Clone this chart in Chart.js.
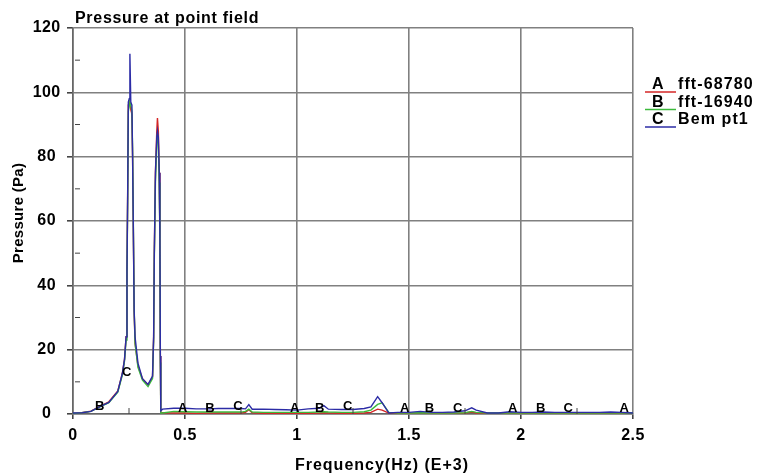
<!DOCTYPE html>
<html>
<head>
<meta charset="utf-8">
<script src="https://cdn.jsdelivr.net/npm/chart.js@4.4.1/dist/chart.umd.min.js"></script>
<style>
html,body{margin:0;padding:0;background:#fff;}
</style>
</head>
<body>
<canvas id="pressure-chart" width="757" height="476"></canvas>
<script>
// frequency axis, in E+3 Hz
const freqs = [
    0, 0.04, 0.08, 0.12, 0.16, 0.2, 0.22, 0.23, 0.237, 0.241,
    0.244, 0.247, 0.251, 0.254, 0.258, 0.263, 0.266, 0.269, 0.273, 0.277,
    0.29, 0.31, 0.335, 0.355, 0.36, 0.363, 0.368, 0.374, 0.377, 0.381,
    0.385, 0.388, 0.39, 0.392, 0.4, 0.45,
    0.5, 0.55, 0.6, 0.65, 0.7, 0.75, 0.77, 0.785, 0.8, 0.85,
    0.9, 0.95, 1.0, 1.05, 1.1, 1.12, 1.14, 1.2, 1.25, 1.3,
    1.33, 1.36, 1.38, 1.41, 1.45, 1.5, 1.55, 1.6, 1.65, 1.7,
    1.75, 1.78, 1.8, 1.85, 1.9, 1.95, 2.0, 2.05, 2.1, 2.15,
    2.2, 2.25, 2.3, 2.35, 2.4, 2.45, 2.5
];
// A fft-68780
const fftA = [
    0.2, 0.4, 0.9, 2.4, 3.8, 7.2, 12.5, 17, 24, 45,
    68, 96, 97, 96, 95, 93, 80, 60, 32, 22,
    15, 11, 9, 11.5, 24, 50, 75, 88, 92, 88,
    75, 55, 18, 0.5, 0.4, 0.3,
    0.3, 0.2, 0.3, 0.3, 0.3, 0.3, 0.5, 1.3, 0.4, 0.2,
    0.2, 0.2, 0.2, 0.2, 0.3, 0.4, 0.3, 0.2, 0.2, 0.3,
    0.5, 1.5, 1.2, 0.3, 0.2, 0.2, 0.2, 0.2, 0.2, 0.2,
    0.3, 0.6, 0.3, 0.2, 0.2, 0.2, 0.2, 0.2, 0.2, 0.2,
    0.2, 0.2, 0.2, 0.2, 0.2, 0.2, 0.2
];
// B fft-16940
const fftB = [
    0.2, 0.4, 0.8, 2.2, 3.5, 6.8, 12, 16.5, 23, 43,
    66, 94, 96, 97, 96, 94, 82, 62, 33, 22,
    14.5, 10.5, 8.5, 11, 23, 48, 72, 84, 87, 84,
    72, 52, 16, 0.3, 0.3, 0.8,
    0.7, 0.6, 0.6, 0.6, 0.6, 0.6, 0.8, 1.5, 0.6, 0.5,
    0.5, 0.5, 0.5, 0.5, 0.6, 0.7, 0.6, 0.5, 0.5, 0.7,
    1.2, 3.0, 3.5, 0.5, 0.3, 0.3, 0.4, 0.3, 0.3, 0.3,
    0.4, 0.8, 0.5, 0.3, 0.3, 0.3, 0.3, 0.3, 0.3, 0.3,
    0.3, 0.3, 0.3, 0.3, 0.3, 0.3, 0.3
];
// C Bem pt1
const bemC = [
    0.3, 0.4, 0.8, 2.3, 3.6, 7.0, 12.5, 17, 24, 45,
    68, 97, 98, 112, 97, 96, 80, 60, 32, 24,
    15.8, 11, 9.2, 11.8, 24, 50, 75, 86, 88, 86,
    75, 55, 18, 1, 1.5, 1.8,
    1.8, 1.6, 1.6, 1.7, 1.7, 1.7, 1.6, 2.9, 1.5, 1.5,
    1.4, 1.3, 1.2, 1.6, 1.8, 2.6, 1.5, 1.4, 1.4, 1.7,
    2.2, 5.4, 3.5, 0.3, 0.5, 0.5, 0.8, 0.5, 0.5, 0.6,
    1.0, 1.9, 1.2, 0.3, 0.3, 0.7, 0.5, 0.5, 0.6, 0.5,
    0.5, 0.5, 0.5, 0.5, 0.6, 0.5, 0.3
];

const seriesNames = ["fft-68780", "fft-16940", "Bem pt1"];
const seriesTags = ["A", "B", "C"];
const seriesColors = ["#d42626", "#3cba3c", "#2c2ca6"];

// where the curve letters sit (left edge, E+3 Hz)
const tagsA = [0.469, 0.969, 1.46, 1.942, 2.44];
const tagsB = [0.098, 0.59, 1.08, 1.57, 2.067];
const tagsC = [0.219, 0.715, 1.205, 1.696, 2.19];

const xTicks = [0, 0.5, 1, 1.5, 2, 2.5];
const yTicks = [0, 20, 40, 60, 80, 100, 120];
const xMinor = [0.25, 0.75, 1.25, 1.75, 2.25];
const yMinor = [10, 30, 50, 70, 90, 110];

const fontFam = '"Liberation Sans", Arial, sans-serif';
const allSeries = [fftA, fftB, bemC];
const allTags = [tagsA, tagsB, tagsC];

function interp(f, vals){
    for(let i = 1; i < freqs.length; i++){
        if(f <= freqs[i]){
            const t = (f - freqs[i-1]) / (freqs[i] - freqs[i-1]);
            return vals[i-1] + t * (vals[i] - vals[i-1]);
        }
    }
    return vals[vals.length-1];
}

const extras = {
    id: "extras",
    beforeDraw(chart){
        chart.ctx.letterSpacing = "0.4px";
    },
    afterDatasetsDraw(chart){
        const ctx = chart.ctx;
        const xs = chart.scales.x, ys = chart.scales.y;
        const area = chart.chartArea;
        ctx.save();

        // minor ticks point inward
        ctx.strokeStyle = "#444";
        ctx.lineWidth = 1;
        yMinor.forEach(function(v){
            const py = ys.getPixelForValue(v);
            ctx.beginPath();
            ctx.moveTo(area.left + 2, py);
            ctx.lineTo(area.left + 7, py);
            ctx.stroke();
        });
        xMinor.forEach(function(v){
            const px = xs.getPixelForValue(v);
            ctx.beginPath();
            ctx.moveTo(px, area.bottom);
            ctx.lineTo(px, area.bottom - 6);
            ctx.stroke();
        });

        // letters along curves
        ctx.letterSpacing = "0px";
        ctx.font = "bold 13px " + fontFam;
        ctx.fillStyle = "#000";
        ctx.textAlign = "left";
        ctx.textBaseline = "alphabetic";
        allTags.forEach(function(list, s){
            list.forEach(function(f){
                let py = ys.getPixelForValue(interp(f, allSeries[s])) + 1;
                py = Math.min(py, area.bottom - 2);
                ctx.fillText(seriesTags[s], xs.getPixelForValue(f), py);
            });
        });

        // chart title
        ctx.letterSpacing = "0.7px";
        ctx.font = "bold 16px " + fontFam;
        ctx.fillText("Pressure at point field", area.left + 2, 23);

        // axis titles
        ctx.letterSpacing = "1px";
        ctx.textAlign = "center";
        ctx.fillText("Frequency(Hz) (E+3)", 382, 470);
        ctx.save();
        ctx.letterSpacing = "0.3px";
        ctx.font = "bold 15px " + fontFam;
        ctx.translate(19, 213);
        ctx.rotate(-Math.PI / 2);
        ctx.textBaseline = "middle";
        ctx.fillText("Pressure (Pa)", 0, 0);
        ctx.restore();

        // legend on the right
        ctx.textAlign = "left";
        seriesNames.forEach(function(name, i){
            const y = 85 + i * 17.5;
            ctx.strokeStyle = seriesColors[i];
            ctx.lineWidth = 1.5;
            ctx.beginPath();
            ctx.moveTo(area.right + 12, y + 7);
            ctx.lineTo(area.right + 43, y + 7);
            ctx.stroke();
            ctx.fillStyle = "#000";
            ctx.textBaseline = "middle";
            ctx.letterSpacing = "1.1px";
            ctx.font = "bold 16px " + fontFam;
            ctx.fillText(seriesTags[i], area.right + 19, y);
            ctx.fillText(name, area.right + 45, y);
        });
        ctx.restore();
    }
};

const ctx = document.getElementById("pressure-chart");
new Chart(ctx, {
    type: "line",
    data: {
        datasets: allSeries.map(function(vals, i){
            return {
                label: seriesNames[i],
                data: freqs.map(function(f, k){ return {x: f, y: vals[k]}; }),
                borderColor: seriesColors[i],
                borderWidth: 1.4,
                pointRadius: 0,
                tension: 0,
                fill: false,
                order: 2 - i
            };
        })
    },
    options: {
        responsive: false,
        animation: false,
        layout: {padding: {top: 28, right: 124, left: 0, bottom: 0}},
        plugins: {legend: {display: false}, tooltip: {enabled: false}},
        scales: {
            x: {
                type: "linear",
                min: 0, max: 2.5,
                afterBuildTicks: function(scale){ scale.ticks = xTicks.map(v => ({value: v})); },
                afterFit: function(scale){ scale.height = 62; },
                ticks: {
                    callback: v => String(v),
                    color: "#000",
                    font: {family: fontFam, size: 16, weight: "bold"},
                    padding: 7,
                    maxRotation: 0
                },
                grid: {color: "#808080", lineWidth: 1.6, tickLength: 5, tickColor: "#444"},
                border: {color: "#666", width: 1.6}
            },
            y: {
                min: 0, max: 120,
                afterBuildTicks: function(scale){ scale.ticks = yTicks.map(v => ({value: v})); },
                afterFit: function(scale){ scale.width = 73; },
                ticks: {
                    color: "#000",
                    font: {family: fontFam, size: 16, weight: "bold"},
                    padding: 7,
                    crossAlign: "center"
                },
                grid: {color: "#808080", lineWidth: 1.6, tickLength: 6, tickColor: "#444"},
                border: {color: "#666", width: 1.6}
            }
        }
    },
    plugins: [extras]
});
</script>
</body>
</html>
